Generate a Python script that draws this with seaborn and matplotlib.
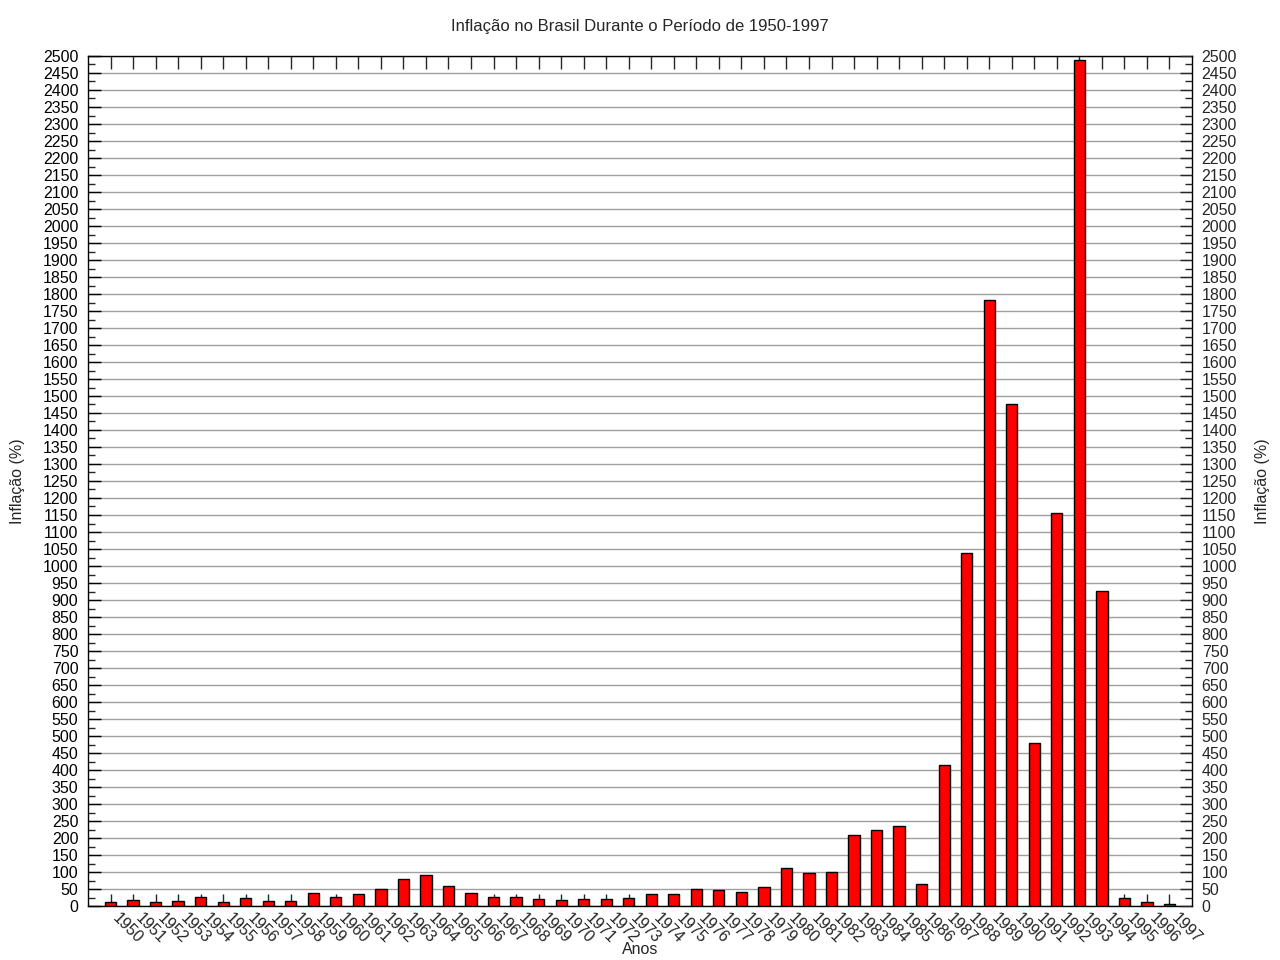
import matplotlib
matplotlib.use("Agg")
import matplotlib.pyplot as plt
import matplotlib.transforms as mtransforms
import seaborn as sns
import numpy as np
import pandas as pd
from matplotlib.ticker import MultipleLocator

years = [str(y) for y in range(1950, 1998)]
inflation = [10.8, 18.6, 10.8, 15.7, 27.5, 12.7, 23.5, 13.7, 13.7, 37.3,
             26.5, 36.3, 51.0, 79.4, 91.2, 58.8, 39.2, 27.5, 27.5, 21.6,
             16.7, 21.6, 20.6, 24.5, 36.3, 35.3, 49.0, 47.0, 40.2, 56.9,
             110.8, 96.0, 101.0, 210.0, 224.0, 234.0, 65.5, 415.0, 1038.0, 1782.0,
             1476.0, 479.0, 1157.0, 2488.0, 927.0, 23.0, 11.5, 4.8]

title = "Inflação no Brasil Durante o Período de 1950-1997"
ylabel = "Inflação (%)"
xlabel = "Anos"

sns.set_style("white")
plt.rcParams['font.family'] = ['Liberation Sans', 'DejaVu Sans']

fig = plt.figure(figsize=(12.8, 9.6), dpi=100)
ax = fig.add_axes([88/1280, 1-906/960, (1192-88)/1280, (906-56)/960])

df = pd.DataFrame({"ano": years, "inflacao": inflation})
sns.barplot(data=df, x="ano", y="inflacao", color="#ff0000", edgecolor="black",
            linewidth=1.0, width=0.5, saturation=1, ax=ax, zorder=3)

ax.set_xlim(-1, len(years))
ax.set_ylim(0, 2500)
ax.yaxis.set_major_locator(MultipleLocator(50))
ax.yaxis.set_minor_locator(MultipleLocator(25))
ax.grid(axis='y', which='major', color='#a0a0a0', linewidth=1.0, zorder=0)
ax.set_axisbelow(True)

ax.set_xlabel("")
ax.set_ylabel("")
ax.tick_params(axis='y', which='major', direction='in', length=9, width=1,
               labelsize=11.5, left=True, right=False, pad=7, colors='black')
ax.tick_params(axis='y', which='minor', direction='in', length=5, width=1, left=True, right=False)
ax.tick_params(axis='x', which='major', direction='in', length=9, width=1,
               top=True, bottom=True, labelsize=11.5, pad=3)
ax.set_xticks(range(len(years)))
ax.set_xticklabels(years, rotation=-45, ha='left', va='top', rotation_mode='anchor')
offset = mtransforms.ScaledTranslation(10/100, 0, fig.dpi_scale_trans)
for lbl in ax.get_xticklabels():
    lbl.set_transform(lbl.get_transform() + offset)

for s in ax.spines.values():
    s.set_color('black')
    s.set_linewidth(1.0)
    s.set_visible(True)

ax2 = ax.twinx()
ax2.set_ylim(0, 2500)
ax2.yaxis.set_major_locator(MultipleLocator(50))
ax2.yaxis.set_minor_locator(MultipleLocator(25))
ax2.tick_params(axis='y', which='major', direction='in', length=9, width=1,
                labelsize=11.5, right=True, left=False, pad=7)
ax2.tick_params(axis='y', which='minor', direction='in', length=5, width=1, right=True, left=False)
ax2.grid(False)
for s in ax2.spines.values():
    s.set_visible(False)

fig.text(640/1280, 1-27/960, title, ha='center', va='center', fontsize=12)
fig.text(18/1280, 1-481/960, ylabel, ha='center', va='center', rotation=90, fontsize=11.5)
fig.text(1262/1280, 1-481/960, ylabel, ha='center', va='center', rotation=90, fontsize=11.5)
fig.text(640/1280, 1-949/960, xlabel, ha='center', va='center', fontsize=11.5)

fig.savefig("out.png", dpi=100)
